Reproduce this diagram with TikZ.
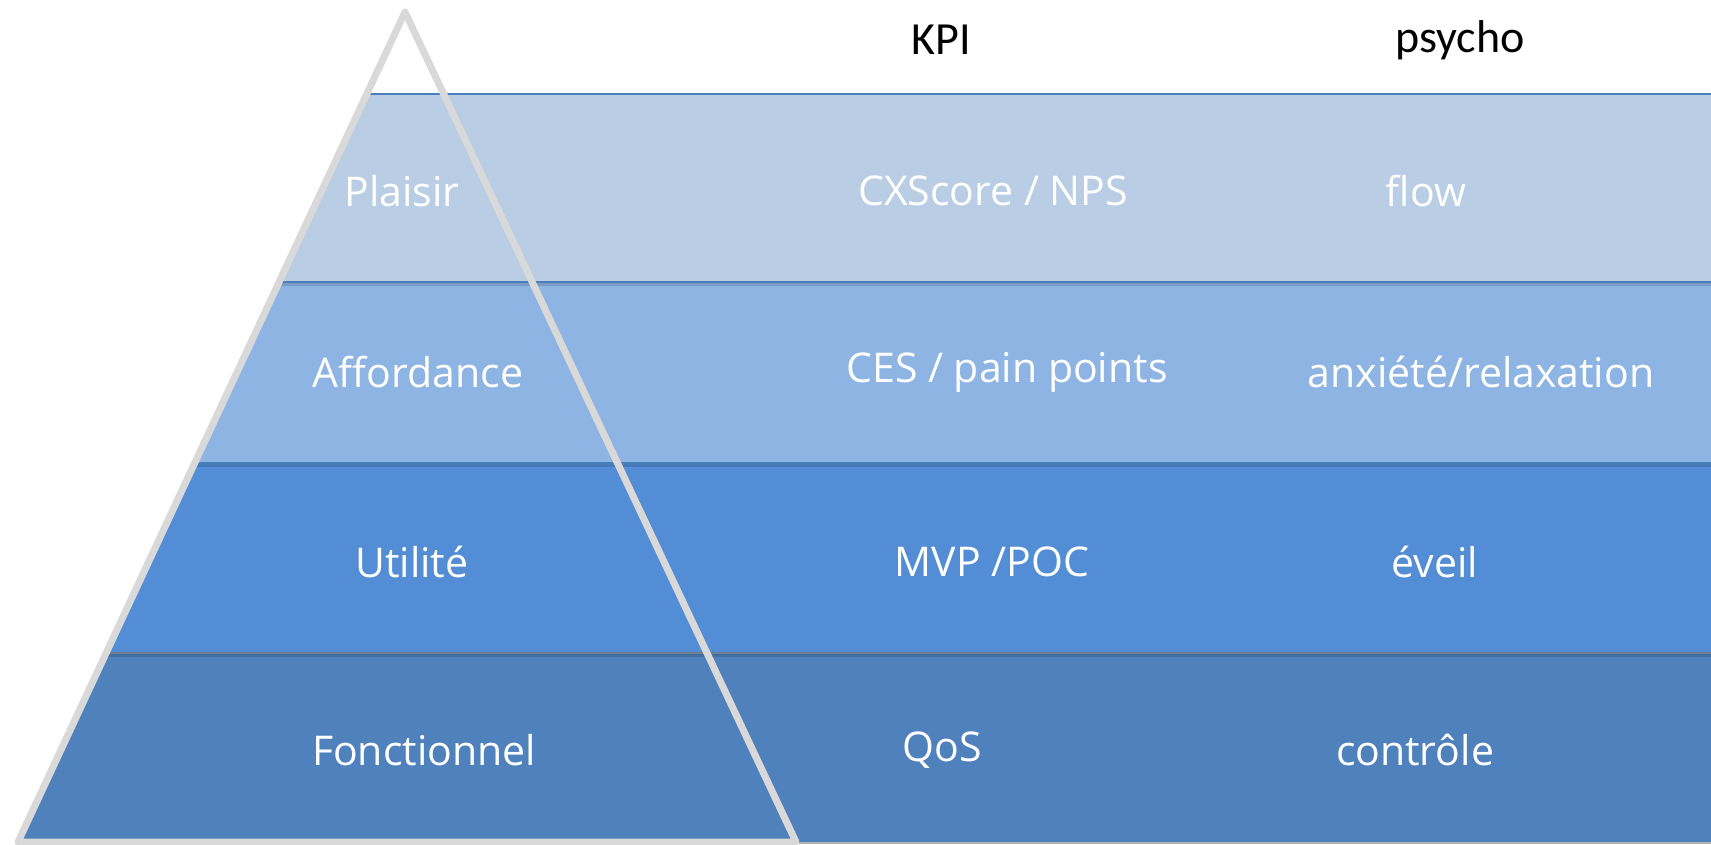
\documentclass[tikz,border=0pt]{standalone}
\usepackage{fontspec}
\setmainfont{Carlito}
\newfontfamily\lblfont{Open Sans}
\definecolor{bandA}{HTML}{B9CDE5}
\definecolor{bandB}{HTML}{8EB4E3}
\definecolor{bandC}{HTML}{538DD5}
\definecolor{bandD}{HTML}{4F81BD}
\definecolor{edgeblue}{HTML}{4A7EBB}
\definecolor{trigray}{HTML}{D9D9D9}
\begin{document}
\begin{tikzpicture}[x=1pt,y=-1pt,
  lbl/.style={text=white,font=\lblfont\fontsize{41}{50}\selectfont,inner sep=0pt,anchor=center},
  head/.style={text=black,font=\fontsize{46}{55}\selectfont,inner sep=0pt,anchor=center},
  topedge/.style={draw=edgeblue,line width=1.6pt},
  shadowline/.style={draw=black,opacity=0.14,line width=3pt},
  tri/.style={draw=trigray,line width=7pt,line join=round}]
\useasboundingbox (0,0) rectangle (1711,844);
\fill[white] (0,0) rectangle (1711,844);
% bands
\fill[bandA] (366.8,94) -- (1711,94) -- (1711,282) -- (279.3,282) -- cycle;
\fill[bandB] (279.3,282) -- (1711,282) -- (1711,463) -- (195,463) -- cycle;
\fill[bandC] (195,463) -- (1711,463) -- (1711,653) -- (106.5,653) -- cycle;
\fill[bandD] (106.5,653) -- (1711,653) -- (1711,843) -- (18,843) -- cycle;
% shadows under band edges
\draw[shadowline] (279.3,284.5) -- (1711,284.5);
\draw[shadowline] (195,465.5) -- (1711,465.5);
\draw[shadowline] (106.5,655.5) -- (1711,655.5);
% top edges
\draw[topedge] (366.8,94) -- (1711,94);
\draw[topedge] (279.3,282) -- (1711,282);
\draw[topedge] (195,463) -- (1711,463);
\draw[draw=gray!70!edgeblue,line width=1.2pt] (106.5,653) -- (1711,653);
\draw[draw=gray!60,line width=1.5pt] (18,843) -- (1711,843);
% pyramid outline
\draw[tri] (405,12) -- (796,842) -- (18,842) -- cycle;
% headers
\node[head] (kpi) at (941,40) {KPI};
\node[head] (psy) at (1460,40) {psycho};
% row labels
\node[lbl] (l1) at (402,191) {Plaisir};
\node[lbl] (k1) at (993,191) {CXScore / NPS};
\node[lbl] (p1) at (1426,191) {flow};
\node[lbl] (l2) at (418,372) {Affordance};
\node[lbl] (k2) at (1007,372) {CES / pain points};
\node[lbl] (p2) at (1481,372) {anxiété/relaxation};
\node[lbl] (l3) at (412,562) {Utilité};
\node[lbl] (k3) at (992,562) {MVP /POC};
\node[lbl] (p3) at (1435,562) {éveil};
\node[lbl] (l4) at (424,750) {Fonctionnel};
\node[lbl] (k4) at (942,750) {QoS};
\node[lbl] (p4) at (1415,750) {contrôle};
\end{tikzpicture}
\end{document}
